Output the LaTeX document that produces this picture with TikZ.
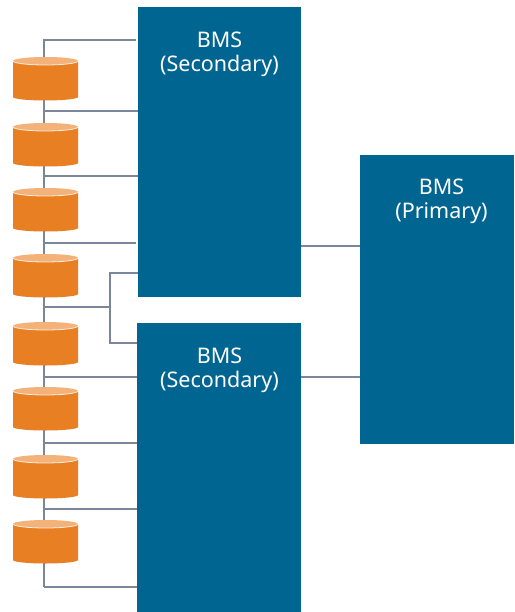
\documentclass[tikz,border=0pt]{standalone}
\usepackage{fontspec}
\setmainfont{Noto Sans}
\definecolor{bmsblue}{HTML}{006691}
\definecolor{wire}{HTML}{7B8799}
\definecolor{drum}{HTML}{E97F23}
\definecolor{drumtop}{HTML}{F3B27A}
\tikzset{
  bmsbox/.style={fill=bmsblue,draw=none,inner sep=0pt,outer sep=0pt},
  bmstext/.style={text=white,font=\fontsize{21.5}{24.5}\selectfont,align=center,inner sep=0pt},
  wireline/.style={draw=wire,line width=2.3pt},
  drumnode/.style={draw=none,inner sep=0pt,outer sep=0pt,minimum width=65pt,minimum height=43pt}
}
\begin{document}
\begin{tikzpicture}[x=1pt,y=-1pt]
\useasboundingbox (0,0) rectangle (514,612);
\fill[white] (0,0) rectangle (514,612);
% boxes
\node[bmsbox,minimum width=163pt,minimum height=290pt] (sa) at (219.5,152) {};
\node[bmsbox,minimum width=164pt,minimum height=289pt] (sb) at (219,467.5) {};
\node[bmsbox,minimum width=154pt,minimum height=289pt] (pr) at (437,299.5) {};
\node[bmstext] (ta) at (219.5,54.5) {BMS\\(Secondary)};
\node[bmstext] (tb) at (219.5,370.5) {BMS\\(Secondary)};
\node[bmstext] (tp) at (441.5,201.5) {BMS\\(Primary)};
% junctions
\coordinate (j0) at (44,40);
\coordinate (j1) at (44,111);
\coordinate (j2) at (44,176);
\coordinate (j3) at (44,243);
\coordinate (j4) at (44,307);
\coordinate (j5) at (44,377);
\coordinate (j6) at (44,443);
\coordinate (j7) at (44,509);
\coordinate (j8) at (44,587);
\coordinate (k0) at (110,307);
\coordinate (ka) at (110,273);
\coordinate (kb) at (110,343);
\coordinate (pa) at (301,246);
\coordinate (pb) at (301,377);
% wires (behind drums)
\draw[wireline,shorten >=2.5pt] (j8) -- (j0) -- (j0 -| sa.west);
\draw[wireline] (j1) -- (j1 -| sa.west);
\draw[wireline] (j2) -- (j2 -| sa.west);
\draw[wireline,shorten >=2pt] (j3) -- (j3 -| sa.west);
\draw[wireline] (j4) -- (k0);
\draw[wireline] (ka -| sa.west) -- (ka) -- (kb) -- (kb -| sb.west);
\draw[wireline] (j5) -- (j5 -| sb.west);
\draw[wireline] (j6) -- (j6 -| sb.west);
\draw[wireline] (j7) -- (j7 -| sb.west);
\draw[wireline] (j8) -- (j8 -| sb.west);
\draw[wireline] (pa) -- (pa -| pr.west);
\draw[wireline] (pb) -- (pb -| pr.west);
% drums
\foreach \n/\t in {1/57,2/123,3/188,4/254,5/322,6/387,7/455,8/520}{
  \node[drumnode] (d\n) at (45.5,\t+21.5) {};
  \fill[drum] (d\n.west |- 0,\t+4) -- (d\n.west |- 0,\t+40) arc[start angle=180,end angle=360,x radius=32.5pt,y radius=3.5pt] -- (d\n.east |- 0,\t+4) -- cycle;
  \fill[drumtop] (45.5,\t+4) ellipse[x radius=32.5pt,y radius=4pt];
  \draw[white,opacity=0.8,line width=0.8pt] (d\n.west |- 0,\t+4) arc[start angle=180,end angle=360,x radius=32.5pt,y radius=4pt];
}
\end{tikzpicture}
\end{document}
